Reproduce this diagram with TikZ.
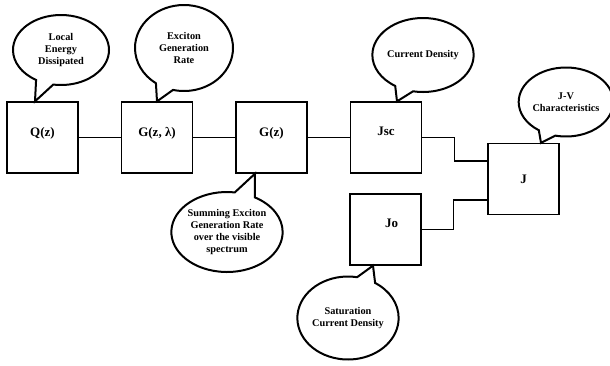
\documentclass[tikz,border=0pt]{standalone}
\usepackage{fontspec}
\setmainfont{Liberation Serif}
\usetikzlibrary{shapes.callouts,calc}
\tikzset{
  box/.style={draw, line width=1.3pt, minimum size=71pt, inner sep=0pt, text depth=12pt, font=\fontsize{13}{15}\selectfont\bfseries},
  bubble/.style={ellipse callout, draw, line width=2pt, fill=white, inner sep=0pt, align=center, callout pointer arc=22, font=\fontsize{10.3}{11.7}\selectfont\bfseries},
  wire/.style={line width=1.1pt}
}
\begin{document}
\begin{tikzpicture}[x=1pt,y=-1pt]
\useasboundingbox (0,0) rectangle (610,365);
% blocks
\node[box] (qz) at (42.5,137.5) {Q(z)};
\node[box] (gzl) at (157,137.5) {G(z, λ)};
\node[box] (gz) at (271.5,137.5) {G(z)};
\node[box] (jsc) at (386,137.5) {Jsc};
\node[box] (jo) at (385.5,229.5) {\hspace{12pt}Jo};
\node[box, text depth=0pt] (jj) at (523.5,179) {J};
% wires
\draw[wire] (qz) -- (gzl);
\draw[wire] (gzl) -- (gz);
\draw[wire] (gz) -- (jsc);
\draw[wire] (jsc.east) -- ++(32,0) |- ($(jj.west)+(0,-18)$);
\draw[wire] (jo.east) -- ++(32,0) |- ($(jj.west)+(0,21)$);
% bubbles
\node[bubble, minimum width=96pt, minimum height=70pt, callout absolute pointer={($(qz.north)+(-7.5,0)$)}] (qzn) at (61,50) {Local\\Energy\\Dissipated};
\node[bubble, minimum width=98pt, minimum height=86pt, callout absolute pointer={(gzl.north)}] (gzln) at (184,48) {Exciton\\Generation\\Rate};
\node[bubble, minimum width=91pt, minimum height=74pt, callout absolute pointer={($(jsc.north)+(11,0)$)}] (jscn) at (423,55) {Current Density};
\node[bubble, minimum width=88pt, minimum height=69pt, callout absolute pointer={($(jj.north)+(17.5,0)$)}] (jjn) at (566,102) {J-V\\Characteristics};
\node[bubble, minimum width=102pt, minimum height=80pt, callout absolute pointer={($(gz.south)+(-16.5,0)$)}] (gzn) at (227,232) {Summing Exciton\\Generation Rate\\over the visible\\spectrum};
\node[bubble, minimum width=99pt, minimum height=83pt, callout absolute pointer={($(jo.south)+(-12.5,0)$)}] (jon) at (348,318) {Saturation\\Current Density};
\end{tikzpicture}
\end{document}
